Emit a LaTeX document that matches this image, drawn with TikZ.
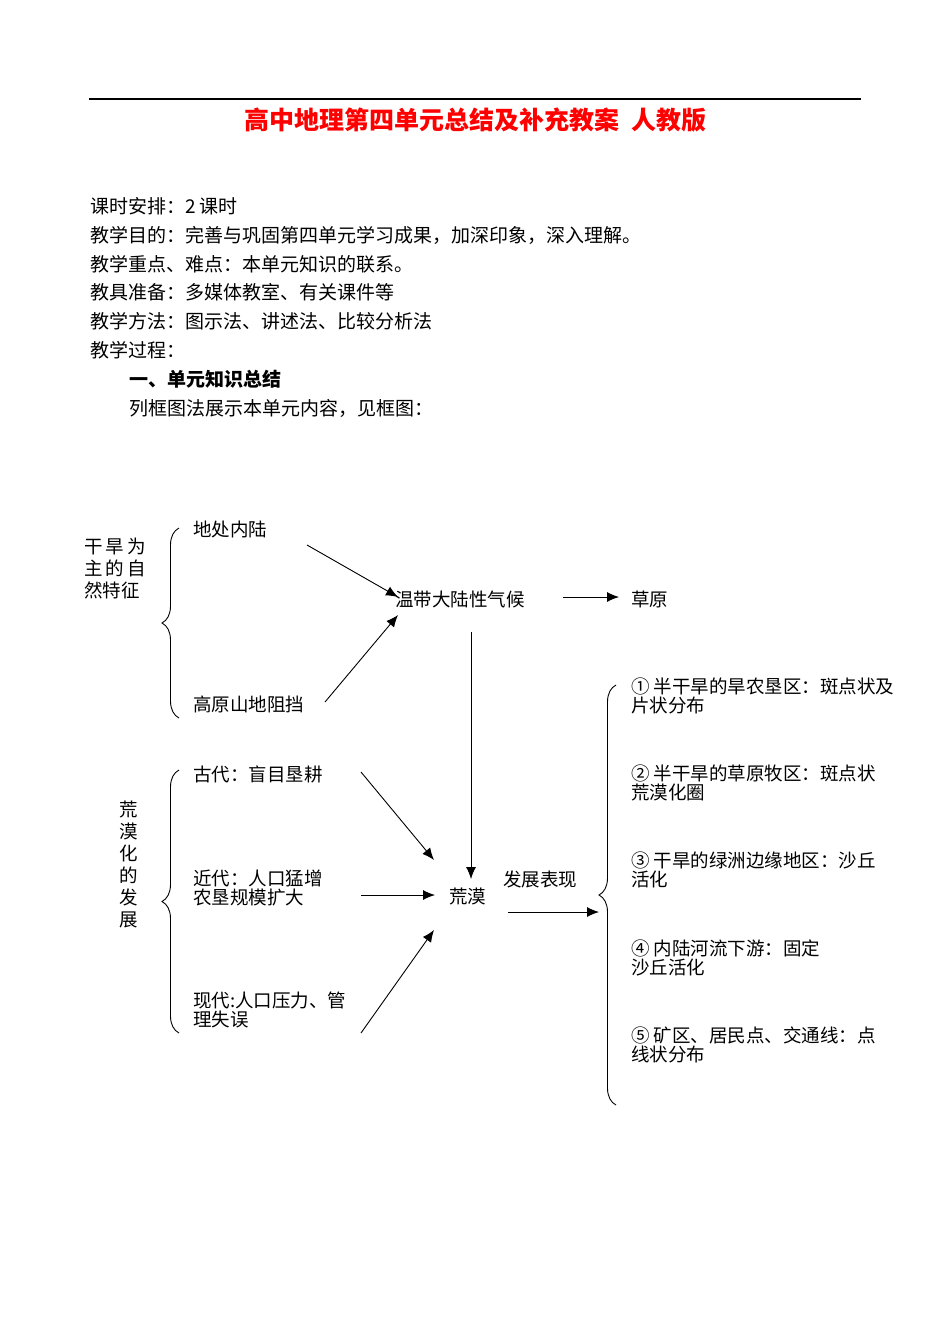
\documentclass[tikz,border=0pt]{standalone}
\usepackage{fontspec}
\setmainfont{Noto Sans CJK SC}
\usetikzlibrary{arrows.meta,decorations.pathreplacing}
\tikzset{
  body/.style={anchor=west, inner sep=0pt, font=\fontsize{19}{22}\selectfont},
  dtext/.style={anchor=west, inner sep=0pt, align=left, font=\fontsize{18.5}{19.5}\selectfont},
  arr/.style={-{Latex[length=12pt,width=10pt]}, line width=0.9pt},
  bracedec/.style={decorate, decoration={brace, amplitude=17pt, aspect=0.5}, line width=0.9pt},
}
\begin{document}
\begin{tikzpicture}[x=1pt,y=-1pt]
\useasboundingbox (0,0) rectangle (950,1342);
\fill[white] (0,0) rectangle (950,1342);
% top rule and title
\coordinate (ruleL) at (89,99);
\coordinate (ruleR) at (861,99);
\draw[line width=1.3pt] (ruleL) -- (ruleR);
\node[inner sep=0pt, text=red, font=\fontsize{25}{27}\selectfont\bfseries] (title) at (475,120) {高中地理第四单元总结及补充教案\hspace{12pt}人教版};
% header text
\node[body] (l1) at (90,206) {课时安排：2 课时};
\node[body] (l2) at (90,235) {教学目的：完善与巩固第四单元学习成果，加深印象，深入理解。};
\node[body] (l3) at (90,264) {教学重点、难点：本单元知识的联系。};
\node[body] (l4) at (90,292) {教具准备：多媒体教室、有关课件等};
\node[body] (l5) at (90,321) {教学方法：图示法、讲述法、比较分析法};
\node[body] (l6) at (90,350) {教学过程：};
\node[body, font=\fontsize{19}{22}\selectfont\bfseries] (l7) at (129,379) {一、单元知识总结};
\node[body] (l8) at (129,408) {列框图法展示本单元内容，见框图：};
% upper group
\node[dtext, font=\fontsize{18.5}{22}\selectfont] (nat) at (84,568) {干\hspace{3pt}旱\hspace{3pt}为\\主\hspace{3pt}的\hspace{3pt}自\\然特征};
\draw[bracedec] (179,718) -- (179,528);
\node[dtext] (dcnl) at (193,529) {地处内陆};
\node[dtext] (gysd) at (193,704) {高原山地阻挡};
\node[dtext] (wdqh) at (395,599) {温带大陆性气候};
\node[dtext] (cy) at (631,599) {草原};
\coordinate (a1s) at (307,545);
\coordinate (a1e) at (398,597);
\coordinate (a2s) at (325,702);
\coordinate (a2e) at (398,615);
\draw[arr] (a1s) -- (a1e);
\draw[arr] (a2s) -- (a2e);
\coordinate (a3s) at (563,597);
\coordinate (a3e) at (619,597);
\draw[arr] (a3s) -- (a3e);
% lower group
\node[inner sep=0pt, align=center, font=\fontsize{18.5}{22}\selectfont] (hmhfz) at (129,864) {荒\\漠\\化\\的\\发\\展};
\draw[bracedec] (179,1033) -- (179,770);
\node[dtext] (gd) at (193,774) {古代：盲目垦耕};
\node[dtext] (jd) at (193,888) {近代：人口猛增\\农垦规模扩大};
\node[dtext] (xd) at (193,1010) {现代:人口压力、管\\理失误};
\node[dtext] (hm) at (449,896) {荒漠};
\node[dtext] (fzbx) at (503,879) {发展表现};
\coordinate (vs) at (471,632);
\coordinate (ve) at (471,879);
\draw[arr] (vs) -- (ve);
\coordinate (b1s) at (361,772);
\coordinate (b1e) at (434,860);
\coordinate (b2s) at (361,895);
\coordinate (b2e) at (435,895);
\coordinate (b3s) at (361,1033);
\coordinate (b3e) at (434,930);
\draw[arr] (b1s) -- (b1e);
\draw[arr] (b2s) -- (b2e);
\draw[arr] (b3s) -- (b3e);
\coordinate (c1s) at (508,912);
\coordinate (c1e) at (599,912);
\draw[arr] (c1s) -- (c1e);
% right brace and items
\draw[bracedec] (616,1105) -- (616,685);
\node[dtext] (r1) at (631,696) {① 半干旱的旱农垦区：斑点状及\\片状分布};
\node[dtext] (r2) at (631,783) {② 半干旱的草原牧区：斑点状\\荒漠化圈};
\node[dtext] (r3) at (631,870) {③ 干旱的绿洲边缘地区：沙丘\\活化};
\node[dtext] (r4) at (631,958) {④ 内陆河流下游：固定\\沙丘活化};
\node[dtext] (r5) at (631,1045) {⑤ 矿区、居民点、交通线：点\\线状分布};
\end{tikzpicture}
\end{document}
